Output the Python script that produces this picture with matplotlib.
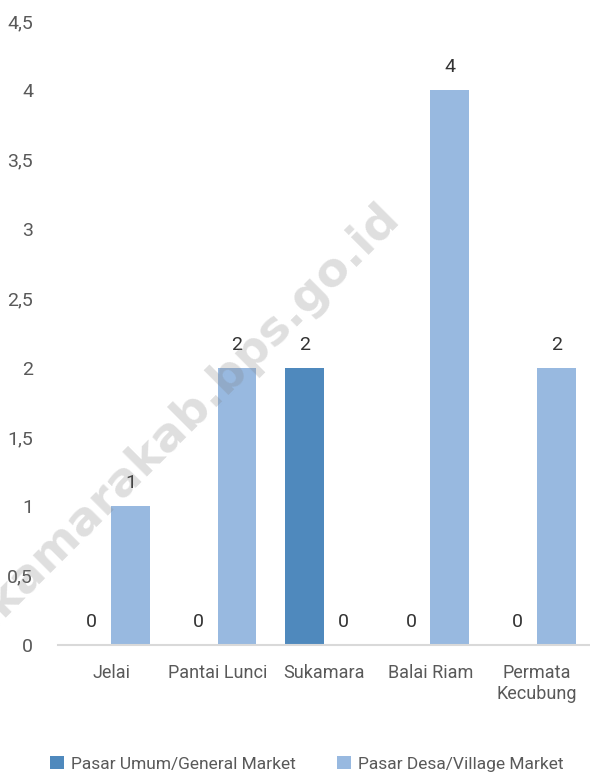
import matplotlib
matplotlib.use("Agg")
import matplotlib.pyplot as plt
import numpy as np

plt.rcParams['font.family'] = ['Roboto', 'DejaVu Sans']

categories = ["Jelai", "Pantai Lunci", "Sukamara", "Balai Riam", "Permata\nKecubung"]
pasar_umum = [0, 0, 2, 0, 0]
pasar_desa = [1, 2, 0, 4, 2]
labels = ["Pasar Umum/General Market", "Pasar Desa/Village Market"]
yticks = [0, 0.5, 1, 1.5, 2, 2.5, 3, 3.5, 4, 4.5]

fig = plt.figure(figsize=(5.9, 7.76), dpi=100)
ax = fig.add_axes([58 / 590, 1 - 645 / 776, 532 / 590, 624 / 776])

# watermark
fig.text(172 / 590, 1 - 432 / 776, "sukamarakab.bps.go.id", fontsize=34,
         fontweight="bold", family="DejaVu Sans", color="#7f7f7f", alpha=0.25,
         rotation=45, ha="center", va="center", zorder=5)

x = np.arange(len(categories))
w = 0.365
b1 = ax.bar(x - w / 2, pasar_umum, w, color="#4f89bd", label=labels[0])
b2 = ax.bar(x + w / 2, pasar_desa, w, color="#98b9e0", label=labels[1])

for bars in (b1, b2):
    for r in bars:
        h = r.get_height()
        ax.annotate(str(int(h)), (r.get_x() + r.get_width() / 2, h),
                    xytext=(0, 10), textcoords="offset points",
                    ha="center", va="bottom", fontsize=14, color="#333333")

ax.set_xlim(-0.5, len(categories) - 0.5)
ax.set_ylim(0, 4.5)
ax.set_yticks(yticks)
ax.set_yticklabels([("%g" % v).replace(".", ",") for v in yticks])
ax.set_xticks(x)
ax.set_xticklabels(categories, multialignment="center")
ax.tick_params(axis="both", length=0, labelsize=13, labelcolor="#595959")
ax.tick_params(axis="y", labelsize=14, pad=18)
ax.tick_params(axis="x", pad=14)
for s in ["top", "right", "left"]:
    ax.spines[s].set_visible(False)
ax.spines["bottom"].set_color("#d9d9d9")
ax.spines["bottom"].set_linewidth(1.5)

fig.legend(handles=[b1, b2], loc="center", bbox_to_anchor=(0.52, 1 - 764 / 776),
           ncol=2, frameon=False, fontsize=12.5, handlelength=0.8, handleheight=0.8,
           handletextpad=0.4, columnspacing=2.4, labelcolor="#595959")

fig.savefig("out.png", dpi=100)
